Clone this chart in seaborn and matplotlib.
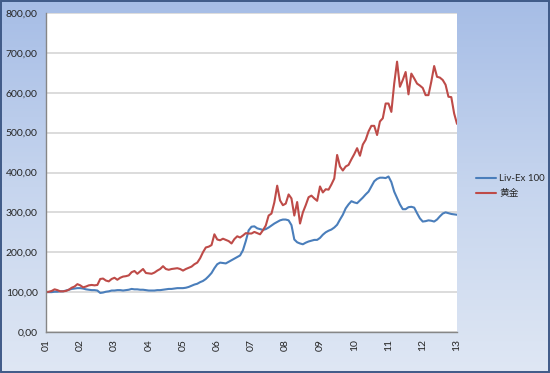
import numpy as np
import pandas as pd
import matplotlib
matplotlib.use("Agg")
import matplotlib.pyplot as plt
from matplotlib.colors import LinearSegmentedColormap
from matplotlib.patches import Rectangle
import seaborn as sns

# ---- data (monthly index values, 2001-01 .. 2013-01) ----
year_labels = ["01", "02", "03", "04", "05", "06", "07", "08", "09", "10", "11", "12", "13"]
series_names = ["Liv-Ex 100", "黄金"]

liv_ex = [100, 100, 100, 101, 101, 102, 102, 104, 106, 108, 109, 110,
          110, 109, 107, 106, 105, 105, 104, 98, 99, 101, 102, 104,
          104, 105, 105, 104, 105, 106, 108, 107, 107, 106, 106, 105,
          104, 104, 104, 105, 105, 106, 107, 108, 108, 109, 110, 110,
          110, 111, 113, 116, 119, 121, 125, 128, 133, 140, 148, 160,
          170, 174, 173, 172, 176, 180, 184, 188, 192, 205, 228, 255,
          264, 265, 260, 258, 256, 258, 262, 267, 272, 276, 280, 282,
          282, 280, 268, 232, 225, 222, 220, 224, 227, 229, 231, 231,
          236, 244, 250, 254, 257, 262, 269, 282, 294, 310, 320, 328,
          325, 323, 330, 337, 345, 352, 365, 378, 384, 387, 387, 386,
          390, 376, 352, 336, 320, 308, 308, 313, 314, 312, 298, 285,
          277, 278, 280, 279, 277, 282, 290, 297, 300, 298, 296, 295,
          294]

gold = [100, 101, 103, 107, 105, 102, 102, 103, 106, 111, 114, 120,
        117, 112, 114, 117, 118, 117, 118, 133, 134, 129, 127, 133,
        136, 131, 136, 139, 140, 142, 150, 153, 146, 152, 158, 148,
        147, 146, 149, 154, 158, 165, 158, 156, 158, 159, 160, 158,
        154, 158, 161, 164, 170, 174, 185, 200, 212, 214, 218, 245,
        232, 230, 234, 231, 228, 222, 233, 240, 237, 242, 248, 247,
        247, 251, 248, 245, 255, 267, 292, 297, 325, 367, 330, 318,
        322, 345, 335, 292, 326, 272, 300, 318, 338, 342, 335, 329,
        365, 350, 358, 357, 370, 385, 444, 415, 405, 415, 419, 433,
        446, 461, 442, 470, 482, 503, 517, 517, 494, 528, 536, 573,
        573, 552, 623, 678, 615, 632, 652, 596, 648, 636, 623, 618,
        612, 594, 594, 628, 667, 640, 638, 632, 620, 590, 589, 548,
        522]

y_ticks = [0, 100, 200, 300, 400, 500, 600, 700, 800]

months = list(range(len(gold)))
df = pd.DataFrame({
    "month": months * 2,
    "value": liv_ex + gold,
    "series": [series_names[0]] * len(liv_ex) + [series_names[1]] * len(gold),
})

# ---- styling ----
sns.set_style("white")
plt.rcParams["font.family"] = ["Lato", "Noto Sans CJK SC", "DejaVu Sans"]

W, H = 550, 373
fig = plt.figure(figsize=(W / 100, H / 100), dpi=100)

# gradient background
bg = fig.add_axes([0, 0, 1, 1], zorder=-10)
cmap = LinearSegmentedColormap.from_list("bg", ["#a6bde6", "#c6d5ee", "#dfe7f4"])
grad = np.linspace(0, 1, 256).reshape(-1, 1)
bg.imshow(grad, aspect="auto", cmap=cmap, extent=[0, 1, 0, 1], origin="upper")
bg.set_axis_off()
fig.patches.append(Rectangle((0.001, 0.002), 0.997, 0.995, transform=fig.transFigure,
                             fill=False, edgecolor="#3f5a88", lw=1.4, zorder=10))

ax = fig.add_axes([46 / W, 41 / H, (457 - 46) / W, (332 - 13) / H])
ax.set_facecolor("white")

palette = {series_names[0]: "#4a7ebb", series_names[1]: "#be4b48"}
sns.lineplot(data=df, x="month", y="value", hue="series", hue_order=series_names,
             palette=palette, linewidth=1.5, ax=ax, legend=False)

ax.set_xlim(0, len(gold) - 1)
ax.set_ylim(0, 800)
ax.set_yticks(y_ticks)
ax.set_yticklabels([f"{v:.2f}".replace(".", ",") for v in y_ticks], fontsize=7.5, color="#262626")
ax.set_xticks([12 * i for i in range(len(year_labels))])
ax.set_xticklabels(year_labels, rotation=90, fontsize=7.5, color="#262626")
ax.tick_params(axis="y", length=4, color="#868686", pad=2)
ax.tick_params(axis="x", length=0, pad=5)
ax.set_xlabel("")
ax.set_ylabel("")
ax.grid(axis="y", color="#d9d9d9", lw=1.3)
ax.set_axisbelow(True)
for s in ["top", "right"]:
    ax.spines[s].set_visible(False)
for s in ["left", "bottom"]:
    ax.spines[s].set_color("#868686")
    ax.spines[s].set_linewidth(1.0)

handles = [plt.Line2D([], [], color=palette[n], lw=1.5) for n in series_names]
fig.legend(handles, series_names, loc="center left", bbox_to_anchor=(472 / W, 1 - 186 / H),
           frameon=False, fontsize=7, handlelength=2.1, handletextpad=0.3,
           labelspacing=0.6, borderaxespad=0)

fig.savefig("out.png", dpi=100)
